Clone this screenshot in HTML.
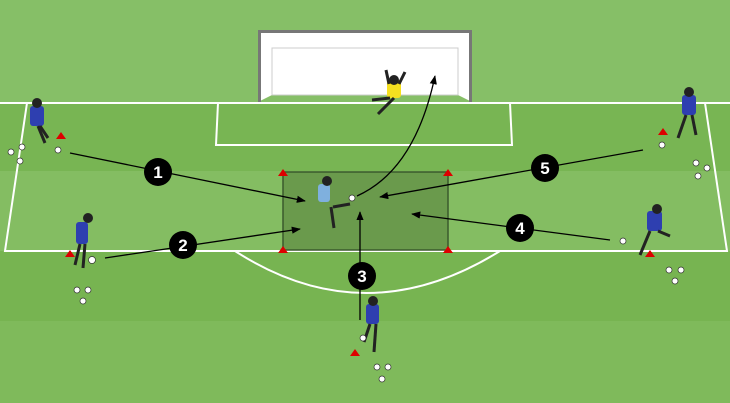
<!DOCTYPE html>
<html><head><style>body{margin:0}svg{display:block}</style></head><body>
<svg width="730" height="403" viewBox="0 0 730 403" xmlns="http://www.w3.org/2000/svg" font-family="Liberation Sans, sans-serif">
<defs><marker id="a" viewBox="0 0 10 10" refX="9" refY="5" markerWidth="7" markerHeight="7" orient="auto"><path d="M0,1 L10,5 L0,9 z" fill="#000"/></marker></defs>
<rect width="730" height="403" fill="#7db95a"/>
<rect y="0" width="730" height="103" fill="#86bf67"/>
<rect y="103" width="730" height="68" fill="#78b553"/>
<rect y="171" width="730" height="80" fill="#84bd62"/>
<rect y="251" width="730" height="70" fill="#77b451"/>
<rect y="321" width="730" height="82" fill="#7fba5b"/>
<g stroke="#fff" stroke-width="2" fill="none">
<line x1="0" y1="103" x2="730" y2="103"/>
<polyline points="27,103 5,251 727,251 705,103"/>
<polyline points="218,103 216,145 512,145 510,103"/>
<path d="M235,251 Q365,335 500,251"/>
</g>
<polygon points="258,31 472,31 472,102 458,95 458,48 272,48 272,95 258,102" fill="#fff"/>
<rect x="272" y="48" width="186" height="47" fill="#fff" stroke="#ccc"/>
<rect x="258" y="30" width="214" height="3" fill="#777"/>
<rect x="258" y="30" width="3" height="72" fill="#777"/>
<rect x="469" y="30" width="3" height="72" fill="#777"/>
<rect x="283" y="172" width="165" height="78" fill="#6a9a4c" stroke="#3b5a2c" stroke-width="1.5"/>
<g fill="#d00">
<path d="M278,176 l5,-7 l5,7z"/><path d="M443,176 l5,-7 l5,7z"/><path d="M278,253 l5,-7 l5,7z"/><path d="M443,253 l5,-7 l5,7z"/>
<path d="M56,139 l5,-7 l5,7z"/><path d="M65,257 l5,-7 l5,7z"/><path d="M658,135 l5,-7 l5,7z"/><path d="M645,257 l5,-7 l5,7z"/><path d="M350,356 l5,-7 l5,7z"/>
</g>
<g stroke="#000" stroke-width="1.3" fill="none" marker-end="url(#a)">
<line x1="70" y1="153" x2="305" y2="201"/>
<line x1="105" y1="258" x2="300" y2="229"/>
<line x1="360" y1="320" x2="360" y2="212"/>
<line x1="610" y1="240" x2="412" y2="214"/>
<line x1="643" y1="150" x2="380" y2="197"/>
<path d="M357,196 Q415,170 435,76"/>
</g>
<g fill="#000"><circle cx="158" cy="172" r="14"/><circle cx="183" cy="245" r="14"/><circle cx="362" cy="276" r="14"/><circle cx="520" cy="228" r="14"/><circle cx="545" cy="168" r="14"/></g>
<g fill="#fff" font-size="17" font-weight="bold" text-anchor="middle">
<text x="158" y="178">1</text><text x="183" y="251">2</text><text x="362" y="282">3</text><text x="520" y="234">4</text><text x="545" y="174">5</text></g>
<!-- players -->
<g fill="#2e3fb0">
<rect x="30" y="106" width="14" height="20" rx="3"/><circle cx="37" cy="103" r="5" fill="#222"/>
<rect x="76" y="222" width="12" height="22" rx="3"/><circle cx="88" cy="218" r="5" fill="#222"/>
<rect x="366" y="304" width="13" height="20" rx="3"/><circle cx="373" cy="301" r="5" fill="#222"/>
<rect x="682" y="95" width="14" height="20" rx="3"/><circle cx="689" cy="92" r="5" fill="#222"/>
<rect x="647" y="211" width="15" height="20" rx="3"/><circle cx="657" cy="209" r="5" fill="#222"/>
</g>
<g stroke="#222" stroke-width="3">
<line x1="38" y1="126" x2="45" y2="143"/><line x1="40" y1="126" x2="48" y2="138"/>
<line x1="80" y1="244" x2="75" y2="265"/><line x1="85" y1="244" x2="83" y2="268"/>
<line x1="370" y1="324" x2="364" y2="342"/><line x1="376" y1="324" x2="374" y2="352"/>
<line x1="686" y1="115" x2="678" y2="138"/><line x1="692" y1="115" x2="696" y2="135"/>
<line x1="650" y1="231" x2="640" y2="255"/><line x1="658" y1="231" x2="670" y2="236"/>
<line x1="331" y1="207" x2="334" y2="228"/><line x1="333" y1="207" x2="350" y2="204"/>
</g>
<rect x="318" y="184" width="12" height="18" rx="3" fill="#7fb0de"/><circle cx="327" cy="181" r="5" fill="#222"/>
<rect x="387" y="80" width="14" height="18" rx="3" fill="#f5e020"/><circle cx="394" cy="80" r="5" fill="#222"/>
<g stroke="#222" stroke-width="3"><line x1="390" y1="98" x2="372" y2="100"/><line x1="394" y1="98" x2="378" y2="114"/><line x1="389" y1="84" x2="386" y2="70"/><line x1="399" y1="84" x2="405" y2="72"/></g>
<g fill="#fff" stroke="#333" stroke-width=".7">
<circle cx="352" cy="198" r="3"/>
<circle cx="11" cy="152" r="3"/><circle cx="22" cy="147" r="3"/><circle cx="20" cy="161" r="3"/><circle cx="58" cy="150" r="3"/>
<circle cx="92" cy="260" r="3.5"/><circle cx="77" cy="290" r="3"/><circle cx="88" cy="290" r="3"/><circle cx="83" cy="301" r="3"/>
<circle cx="363" cy="338" r="3"/><circle cx="377" cy="367" r="3"/><circle cx="388" cy="367" r="3"/><circle cx="382" cy="379" r="3"/>
<circle cx="662" cy="145" r="3"/><circle cx="696" cy="163" r="3"/><circle cx="707" cy="168" r="3"/><circle cx="698" cy="176" r="3"/>
<circle cx="623" cy="241" r="3"/><circle cx="669" cy="270" r="3"/><circle cx="681" cy="270" r="3"/><circle cx="675" cy="281" r="3"/>
</g>
</svg>
</body></html>
